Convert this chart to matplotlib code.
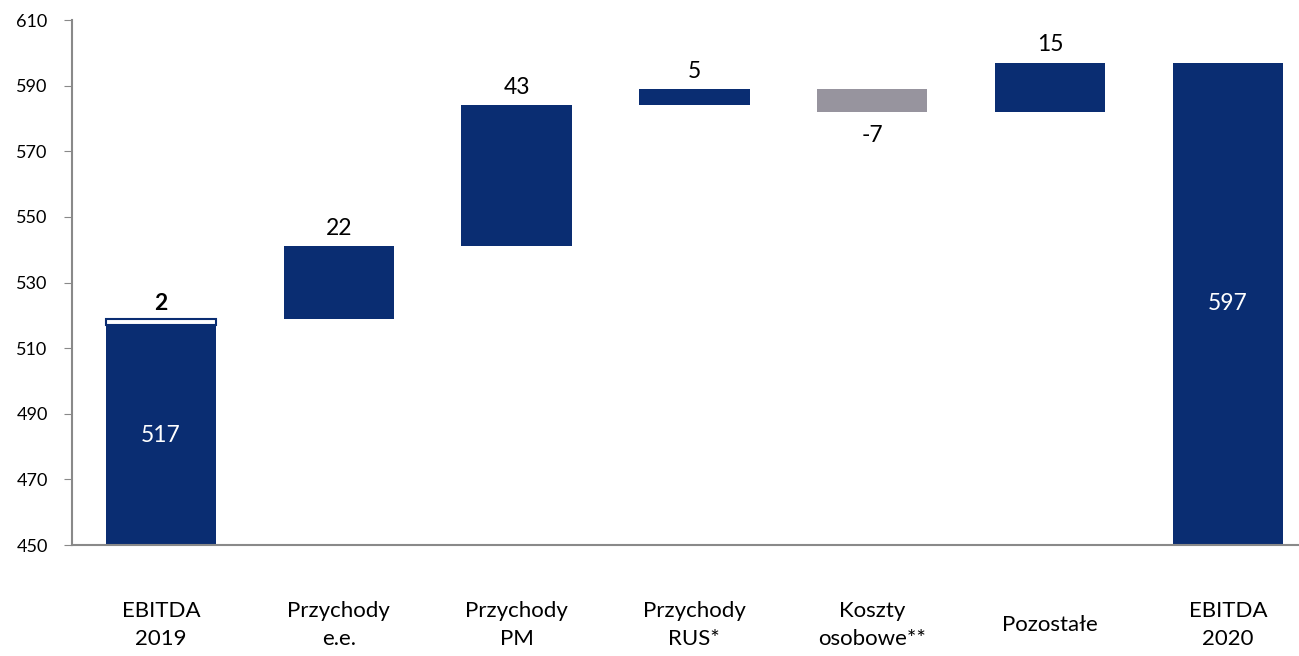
import numpy as np
import matplotlib.pyplot as plt
from matplotlib import transforms

plt.rcParams['font.family'] = ['Lato', 'DejaVu Sans']

# EBITDA bridge 2019 -> 2020
categories = ['EBITDA\n2019', 'Przychody\ne.e.', 'Przychody\nPM', 'Przychody\nRUS*',
              'Koszty\nosobowe**', 'Pozostałe', 'EBITDA\n2020']
ebitda_2019 = 517
adjustment_2019 = 2
changes = [22, 43, 5, -7, 15]
ebitda_2020 = 597

navy = '#0A2D72'
grey = '#97949E'
width = 0.62
vfs = 16.5

fig = plt.figure(figsize=(12.99, 6.56), dpi=100)
ax = fig.add_axes([0.0554, 0.169, 0.9446, 0.8005])

x = np.arange(len(categories))

# first bar plus the small hollow adjustment on top
ax.bar(x[0], ebitda_2019, width=width, color=navy, bottom=0)
ax.bar(x[0], adjustment_2019, width=width, bottom=ebitda_2019,
       facecolor='white', edgecolor=navy, linewidth=1.5)
ax.text(x[0], (ebitda_2019 + 450) / 2, str(ebitda_2019), ha='center', va='center',
        color='white', fontsize=vfs)
ax.text(x[0], ebitda_2019 + adjustment_2019 + 1.5, str(adjustment_2019), ha='center',
        va='bottom', fontsize=vfs, fontweight='bold')

# floating change bars
level = ebitda_2019 + adjustment_2019
for i, c in enumerate(changes, start=1):
    lo, hi = (level, level + c) if c >= 0 else (level + c, level)
    ax.bar(x[i], hi - lo, bottom=lo, width=width, color=navy if c >= 0 else grey)
    if c >= 0:
        ax.text(x[i], hi + 2.2, f'{c}', ha='center', va='bottom', fontsize=vfs)
    else:
        ax.text(x[i], lo - 4, f'{c}', ha='center', va='top', fontsize=vfs)
    level += c

# closing bar
ax.bar(x[-1], ebitda_2020, width=width, color=navy)
ax.text(x[-1], (ebitda_2020 + 450) / 2, str(ebitda_2020), ha='center', va='center',
        color='white', fontsize=vfs)

ax.set_ylim(450, 610)
ax.set_xlim(-0.5, 6.4)
ax.set_yticks(np.arange(450, 611, 20))
ax.tick_params(axis='y', labelsize=13, length=6, color='#898989', pad=11.5)
ax.set_xticks([])

for side in ['top', 'right']:
    ax.spines[side].set_visible(False)
for side in ['left', 'bottom']:
    ax.spines[side].set_color('#898989')
    ax.spines[side].set_linewidth(1.5)

# category labels, centred vertically below the axis
trans = transforms.blended_transform_factory(ax.transData, ax.transAxes)
for xi, lab in zip(x, categories):
    ax.text(xi, -0.152, lab, transform=trans, ha='center', va='center',
            fontsize=16, linespacing=1.55)

fig.savefig('out.png', dpi=100)
